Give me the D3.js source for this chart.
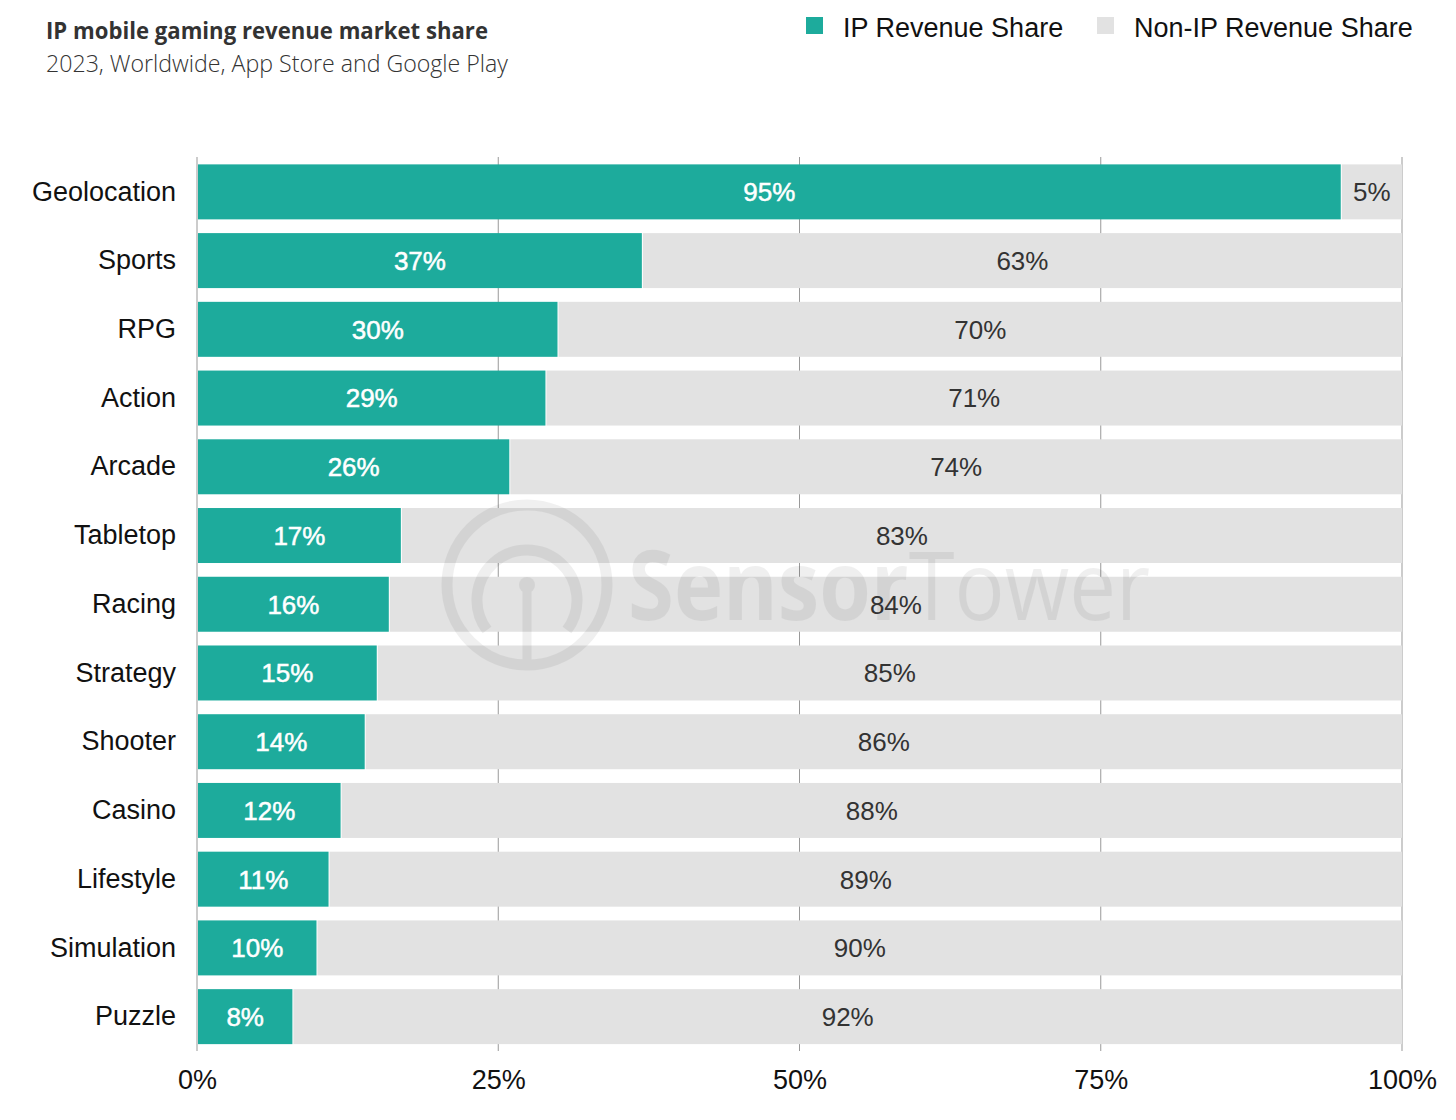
<!DOCTYPE html>
<html><head><meta charset="utf-8">
<script src="https://cdn.jsdelivr.net/npm/d3@7"></script>
<style>body{margin:0;background:#fff}svg{display:block}</style>
</head><body>
<script>
const categories = ["Geolocation","Sports","RPG","Action","Arcade","Tabletop","Racing","Strategy","Shooter","Casino","Lifestyle","Simulation","Puzzle"];
const ipShare = [95,37,30,29,26,17,16,15,14,12,11,10,8];
const nonIpShare = [5,63,70,71,74,83,84,85,86,88,89,90,92];
const tickValues = [0,25,50,75,100];
const seriesNames = ["IP Revenue Share","Non-IP Revenue Share"];
const colors = ["#1dab9c","#e2e2e2"];

const W=1456,H=1120;
const svg=d3.select("body").append("svg").attr("width",W).attr("height",H);
const sans="'Liberation Sans', Arial, Helvetica, sans-serif";
const x=d3.scaleLinear().domain([0,100]).range([197,1402]);
const y=d3.scaleBand().domain(categories).range([157.5,1051]).paddingInner(0.2).paddingOuter(0.1);

// gridlines
svg.append("g").selectAll("line").data(tickValues).join("line")
  .attr("x1",d=>x(d)).attr("x2",d=>x(d)).attr("y1",157).attr("y2",1051)
  .attr("stroke","#999").attr("stroke-width",1);

// bars
const rows=categories.map((c,i)=>({c,ip:ipShare[i],non:nonIpShare[i]}));
const g=svg.append("g");
g.selectAll("rect.non").data(rows).join("rect").attr("class","non")
  .attr("x",d=>x(d.ip)).attr("width",d=>x(100)-x(d.ip)).attr("y",d=>y(d.c)).attr("height",y.bandwidth()).attr("fill",colors[1]);
g.selectAll("rect.ip").data(rows).join("rect").attr("class","ip")
  .attr("x",x(0)+1).attr("width",d=>x(d.ip)-x(0)-2).attr("y",d=>y(d.c)).attr("height",y.bandwidth()).attr("fill",colors[0]);

// watermark (above bars, below labels)
const wm=svg.append("g").attr("opacity",0.06).attr("fill","none").attr("stroke","#000");
wm.append("circle").attr("cx",527).attr("cy",585).attr("r",80).attr("stroke-width",11);
wm.append("path").attr("d","M 487 630 A 50 50 0 1 1 567 630").attr("stroke-width",11);
wm.append("circle").attr("cx",527).attr("cy",585).attr("r",8).attr("fill","#000").attr("stroke","none");
wm.append("line").attr("x1",527).attr("x2",527).attr("y1",590).attr("y2",660).attr("stroke-width",9);
svg.append("text").attr("x",628).attr("y",620).attr("font-family","'Open Sans',sans-serif").attr("font-size",96)
  .attr("fill","#000").attr("opacity",0.06).attr("textLength",522).attr("lengthAdjust","spacingAndGlyphs")
  .html('<tspan font-weight="700">Sensor</tspan><tspan font-weight="400">Tower</tspan>');

const lab=svg.append("g");
lab.selectAll("text.ipl").data(rows).join("text")
  .attr("x",d=>(x(0)+x(d.ip))/2).attr("y",d=>y(d.c)+y.bandwidth()/2).attr("dy","0.36em")
  .attr("text-anchor","middle").attr("font-family",sans).attr("font-size",26).attr("fill","#fff")
  .attr("stroke","#fff").attr("stroke-width",0.5).text(d=>d.ip+"%");
lab.selectAll("text.nl").data(rows).join("text")
  .attr("x",d=>(x(d.ip)+x(100))/2).attr("y",d=>y(d.c)+y.bandwidth()/2).attr("dy","0.36em")
  .attr("text-anchor","middle").attr("font-family",sans).attr("font-size",26).attr("fill","#333").text(d=>d.non+"%");

// y axis labels
const ya=svg.append("g").attr("transform","translate(176,0)").call(d3.axisLeft(y).tickSize(0).tickPadding(0));
ya.select(".domain").remove();
ya.selectAll("text").attr("font-family",sans).attr("font-size",27).attr("fill","#111");

// x axis
const xa=svg.append("g").attr("transform","translate(0,1051)").call(d3.axisBottom(x).tickValues(tickValues).tickFormat(d=>d+"%").tickSize(0).tickPadding(19));
xa.select(".domain").remove();
xa.selectAll("text").attr("font-family",sans).attr("font-size",27).attr("fill","#111");

// title
svg.append("text").attr("x",46).attr("y",39).attr("font-family","'Open Sans',sans-serif").attr("font-weight",700)
  .attr("font-size",23).attr("fill","#333").attr("textLength",442).attr("lengthAdjust","spacingAndGlyphs").text("IP mobile gaming revenue market share");
svg.append("text").attr("x",46).attr("y",72).attr("font-family","'Open Sans',sans-serif").attr("font-weight",300)
  .attr("font-size",23).attr("fill","#333").attr("textLength",462).attr("lengthAdjust","spacingAndGlyphs").text("2023, Worldwide, App Store and Google Play");

// legend
const legX=[806,1097];
const lg=svg.append("g").selectAll("g").data(seriesNames).join("g").attr("transform",(d,i)=>`translate(${legX[i]},17)`);
lg.append("rect").attr("width",17).attr("height",17).attr("fill",(d,i)=>colors[i]);
lg.append("text").attr("x",37).attr("y",10).attr("dy","0.36em").attr("font-family",sans).attr("font-size",27).attr("fill","#111").text(d=>d);
</script>
</body></html>
